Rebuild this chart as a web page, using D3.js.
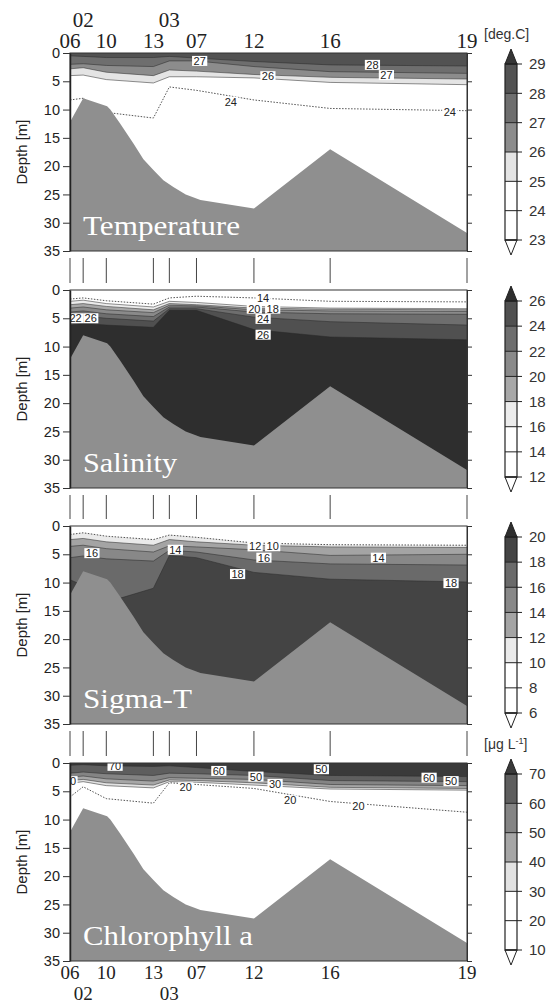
<!DOCTYPE html>
<html>
<head>
<meta charset="utf-8">
<script src="https://cdn.jsdelivr.net/npm/d3@7"></script>
<style>
  body { margin: 0; background: #fff; }
  svg { display: block; }
</style>
</head>
<body>
<div id="chart"></div>
<script>
// stations along the section (relative distance) and their names
const stationNames = ["06", "02", "10", "13", "03", "07", "12", "16", "19"];
const stationDist  = [0, 3.3, 9.1, 20.9, 24.9, 31.7, 46.1, 65.2, 99.5];
const stationRow   = [0, 1, 0, 0, 1, 0, 0, 0, 0];   // 1 = label on second line

// sea bottom profile
const bottomDist  = [0, 3.3, 9.3, 10.1, 12.6, 15.9, 18.4, 20.9, 23.4, 25.9, 29.0, 32.7, 39.0, 46.1, 65.2, 99.5];
const bottomDepth = [12.2, 8.0, 9.4, 10.0, 12.5, 16.0, 18.8, 20.7, 22.5, 23.7, 25.0, 26.0, 26.7, 27.5, 17.0, 31.8];

const depthTicks = [0, 5, 10, 15, 20, 25, 30, 35];

// Temperature: depth of each isoline at each station
const tempTicks  = [23, 24, 25, 26, 27, 28, 29];
const tempLevels = [24, 25, 26, 27, 28];
const tempIso = [
  [8.3, 8.0, 10.5, 11.5, 6.0, 6.6, 8.3, 9.8, 10.2],
  [4.0, 3.9, 4.7, 5.3, 4.2, 4.2, 4.4, 5.2, 5.6],
  [2.8, 2.6, 3.4, 4.0, 3.0, 3.2, 3.8, 4.3, 4.6],
  [2.0, 1.9, 2.2, 2.4, 1.4, 1.4, 2.4, 3.3, 3.6],
  [0.5, 0.6, 0.8, 0.8, 0.6, 0.9, 1.5, 2.1, 2.3]
];
const tempLabelText  = ["27", "26", "28", "27", "24", "24"];
const tempLabelDist  = [32.5, 49.6, 75.8, 79.3, 40.3, 95.2];
const tempLabelDepth = [1.4, 4.1, 2.1, 3.9, 8.6, 10.5];

// Salinity
const salTicks  = [12, 14, 16, 18, 20, 22, 24, 26];
const salLevels = [14, 16, 18, 20, 22, 24, 26];
const salIso = [
  [1.6, 1.4, 1.9, 2.5, 1.4, 1.1, 1.4, 2.0, 2.1],
  [2.0, 1.8, 2.4, 3.0, 2.0, 2.2, 2.9, 3.2, 3.3],
  [2.6, 2.4, 2.9, 3.5, 2.4, 2.6, 3.2, 3.4, 3.5],
  [3.2, 3.0, 3.5, 4.0, 2.7, 2.8, 3.5, 3.7, 3.8],
  [3.9, 3.7, 4.2, 4.7, 3.0, 3.0, 3.9, 4.2, 4.3],
  [4.8, 4.6, 5.0, 5.5, 3.3, 3.3, 4.8, 5.6, 6.2],
  [6.2, 5.9, 6.2, 6.6, 3.6, 3.6, 7.0, 8.3, 8.8]
];
const salLabelText  = ["14", "22", "26", "20", "18", "24", "26"];
const salLabelDist  = [48.4, 1.4, 5.2, 46.2, 50.8, 48.4, 48.4];
const salLabelDepth = [1.4, 5.0, 5.0, 3.3, 3.3, 5.1, 7.9];

// Sigma-T
const sigTicks  = [6, 8, 10, 12, 14, 16, 18, 20];
const sigLevels = [10, 12, 14, 16, 18];
const sigIso = [
  [1.5, 1.2, 1.8, 2.4, 1.6, 2.0, 3.0, 3.3, 3.4],
  [2.4, 2.2, 2.8, 3.4, 2.4, 2.8, 3.4, 3.7, 3.8],
  [3.6, 3.4, 4.0, 4.6, 3.5, 3.7, 4.2, 5.2, 5.0],
  [5.6, 5.3, 5.8, 6.2, 4.3, 4.6, 6.0, 6.7, 6.9],
  [9.5, 10.5, 13.5, 11.0, 5.2, 5.6, 8.2, 9.4, 9.9]
];
const sigLabelText  = ["16", "14", "12", "10", "16", "18", "14", "18"];
const sigLabelDist  = [5.5, 26.4, 46.4, 50.8, 48.6, 42.0, 77.3, 95.5];
const sigLabelDepth = [4.8, 4.2, 3.6, 3.6, 5.6, 8.5, 5.6, 10.1];

// Chlorophyll a
const chlTicks  = [10, 20, 30, 40, 50, 60, 70];
const chlLevels = [20, 30, 40, 50, 60, 70];
const chlIso = [
  [6.0, 4.2, 6.3, 7.1, 3.5, 3.8, 4.5, 6.8, 8.7],
  [3.6, 3.3, 4.0, 4.4, 3.3, 3.4, 3.9, 4.6, 4.8],
  [3.1, 2.9, 3.5, 3.9, 3.0, 3.1, 3.5, 4.3, 4.5],
  [2.5, 2.3, 2.8, 3.2, 2.6, 2.7, 2.9, 3.8, 4.0],
  [1.8, 1.6, 1.9, 2.2, 1.8, 1.9, 2.2, 3.1, 3.3],
  [0.4, 0.3, 0.5, 0.6, 0.5, 0.8, 1.5, 2.2, 2.4]
];
const chlLabelText  = ["70", "60", "50", "50", "30", "60", "50", "20", "20", "20", "20"];
const chlLabelDist  = [11.3, 37.3, 63.0, 46.6, 51.4, 90.0, 95.5, 29.0, 55.2, 72.3, 0];
const chlLabelDepth = [0.5, 1.4, 1.1, 2.4, 3.7, 2.6, 3.2, 4.3, 6.6, 7.6, 3.2];

// ---- panel setup (styles live here, not in the data arrays) ----
const panels = [
  { title: "Temperature", titleLen: 157, top: 53, dir: "up",
    ticks: tempTicks, levels: tempLevels, iso: tempIso,
    bands: ["#ffffff", "#ffffff", "#e4e4e4", "#8c8c8c", "#6e6e6e", "#525252"], over: "#363636",
    lt: tempLabelText, ld: tempLabelDist, lz: tempLabelDepth, unit: "[deg.C]" },
  { title: "Salinity", titleLen: 94, top: 290, dir: "down",
    ticks: salTicks, levels: salLevels, iso: salIso,
    bands: ["#ffffff", "#ffffff", "#ececec", "#a8a8a8", "#8a8a8a", "#6e6e6e", "#505050"], over: "#2e2e2e",
    lt: salLabelText, ld: salLabelDist, lz: salLabelDepth },
  { title: "Sigma-T", titleLen: 109, top: 526, dir: "down",
    ticks: sigTicks, levels: sigLevels, iso: sigIso,
    bands: ["#ffffff", "#ffffff", "#eaeaea", "#a4a4a4", "#888888", "#6a6a6a", "#444444"], over: "#2e2e2e",
    lt: sigLabelText, ld: sigLabelDist, lz: sigLabelDepth },
  { title: "Chlorophyll a", titleLen: 170, top: 763, dir: "up",
    ticks: chlTicks, levels: chlLevels, iso: chlIso,
    bands: ["#ffffff", "#ffffff", "#e2e2e2", "#a6a6a6", "#848484", "#5e5e5e"], over: "#3a3a3a",
    lt: chlLabelText, ld: chlLabelDist, lz: chlLabelDepth, unit: "[\u03bcg L" }
];

const W = 553, H = 1005;
const left = 70, right = 467, panelH = 198;
const sans = "'Liberation Sans', Arial, sans-serif";
const serif = "'Liberation Serif', 'Times New Roman', serif";

const svg = d3.select("#chart").append("svg")
  .attr("width", W).attr("height", H);

const x = d3.scaleLinear().domain([0, 99.5]).range([left, right]);

// colour of the band just above / below a level
function colorAbove(p, level) {
  const i = p.ticks.indexOf(level);
  return i < p.bands.length ? p.bands[i] : p.over;
}
function colorBelow(p, level) {
  const i = p.ticks.indexOf(level);
  return p.bands[Math.max(0, i - 1)];
}

panels.forEach((p, pi) => {
  const top = p.top, bottom = top + panelH;
  const y = d3.scaleLinear().domain([0, 35]).range([top, bottom]);

  const clipId = "clip" + pi;
  svg.append("clipPath").attr("id", clipId)
    .append("rect").attr("x", left).attr("y", top)
    .attr("width", right - left).attr("height", panelH);

  const g = svg.append("g").attr("clip-path", `url(#${clipId})`);

  // base colour = band below the lowest isoline level
  g.append("rect").attr("x", left).attr("y", top)
    .attr("width", right - left).attr("height", panelH)
    .attr("fill", colorBelow(p, p.levels[0]));

  // filled bands, lower levels first
  p.levels.forEach((lev, li) => {
    const area = d3.area()
      .x((d, i) => x(stationDist[i]))
      .y0(() => p.dir === "up" ? y(0) : y(35))
      .y1(d => y(d));
    g.append("path")
      .datum(p.iso[li])
      .attr("d", area)
      .attr("fill", colorAbove(p, lev));
  });

  // isolines
  const line = d3.line()
    .x((d, i) => x(stationDist[i]))
    .y(d => y(d));
  p.levels.forEach((lev, li) => {
    const dotted = li === 0;
    g.append("path")
      .datum(p.iso[li])
      .attr("d", line)
      .attr("fill", "none")
      .attr("stroke", "#2a2a2a")
      .attr("stroke-width", dotted ? 0.9 : 0.7)
      .attr("stroke-dasharray", dotted ? "1.5,1.5" : null)
      .attr("opacity", dotted ? 0.9 : 0.75);
  });

  // sea bottom
  const bottomArea = d3.area()
    .x(d => x(d[0]))
    .y0(y(35) + 1)
    .y1(d => y(d[1]));
  g.append("path")
    .datum(d3.zip(bottomDist, bottomDepth))
    .attr("d", bottomArea)
    .attr("fill", "#8f8f8f");

  // contour labels
  const lab = g.selectAll(".clab").data(p.lt).enter().append("g")
    .attr("class", "clab")
    .attr("transform", (d, i) => `translate(${x(p.ld[i])},${y(p.lz[i])})`);
  lab.append("rect")
    .attr("x", d => -d.length * 3.05 - 1.5).attr("y", -5)
    .attr("width", d => d.length * 6.1 + 3).attr("height", 10)
    .attr("fill", "#fff");
  lab.append("text")
    .attr("text-anchor", "middle").attr("dy", "0.36em")
    .style("font-family", sans).style("font-size", "11px")
    .attr("fill", "#222")
    .text(d => d);

  // panel title
  svg.append("text")
    .attr("x", 83).attr("y", bottom - 16)
    .attr("textLength", p.titleLen).attr("lengthAdjust", "spacingAndGlyphs")
    .style("font-family", serif).style("font-size", "27px")
    .attr("fill", "#fff")
    .text(p.title);

  // frame
  svg.append("rect").attr("x", left).attr("y", top)
    .attr("width", right - left).attr("height", panelH)
    .attr("fill", "none").attr("stroke", "#333").attr("stroke-width", 1);

  // depth axes
  const ax = svg.append("g").attr("transform", `translate(${left},0)`)
    .call(d3.axisLeft(y).tickValues(depthTicks).tickSize(7).tickSizeOuter(0).tickPadding(3));
  ax.selectAll("text").style("font-family", sans).style("font-size", "14.5px").attr("fill", "#222");
  ax.selectAll("line").attr("stroke", "#333");
  ax.select(".domain").attr("stroke", "#222").attr("stroke-width", 1.5);

  const axr = svg.append("g").attr("transform", `translate(${right},0)`)
    .call(d3.axisRight(y).tickValues(depthTicks).tickSize(5).tickSizeOuter(0).tickFormat(""));
  axr.selectAll("line").attr("stroke", "#333");
  axr.select(".domain").attr("stroke", "#333");

  svg.append("text")
    .attr("transform", `translate(22,${top + panelH / 2}) rotate(-90)`)
    .attr("text-anchor", "middle").attr("dy", "0.35em")
    .style("font-family", sans).style("font-size", "15px")
    .attr("fill", "#222")
    .text("Depth [m]");

  // station marks between panels
  if (pi < panels.length - 1) {
    const nextTop = panels[pi + 1].top;
    svg.append("g").selectAll("line").data(stationDist).enter().append("line")
      .attr("x1", d => x(d)).attr("x2", d => x(d))
      .attr("y1", bottom + 7).attr("y2", nextTop - 7)
      .attr("stroke", "#444").attr("stroke-width", 1);
  }

  // colour bar
  const bx = 505, bw = 12;
  const yb = d3.scaleLinear()
    .domain([p.ticks[0], p.ticks[p.ticks.length - 1]])
    .range([top + 187, top + 11]);
  const cb = svg.append("g");
  cb.selectAll("rect").data(p.bands).enter().append("rect")
    .attr("x", bx).attr("width", bw)
    .attr("y", (d, i) => yb(p.ticks[i + 1]))
    .attr("height", (d, i) => yb(p.ticks[i]) - yb(p.ticks[i + 1]))
    .attr("fill", d => d);
  const yTop = yb(p.ticks[p.ticks.length - 1]), yBot = yb(p.ticks[0]);
  cb.append("path")
    .attr("d", `M${bx},${yTop}L${bx + bw / 2},${yTop - 15}L${bx + bw},${yTop}Z`)
    .attr("fill", p.over).attr("stroke", "#222");
  cb.append("path")
    .attr("d", `M${bx},${yBot}L${bx + bw / 2},${yBot + 15}L${bx + bw},${yBot}Z`)
    .attr("fill", "#fff").attr("stroke", "#222");
  cb.selectAll(".sep").data(p.ticks).enter().append("line")
    .attr("x1", bx).attr("x2", bx + bw + 5)
    .attr("y1", d => yb(d)).attr("y2", d => yb(d))
    .attr("stroke", "#222").attr("stroke-width", 1);
  cb.append("rect").attr("x", bx).attr("y", yTop)
    .attr("width", bw).attr("height", yBot - yTop)
    .attr("fill", "none").attr("stroke", "#222").attr("stroke-width", 1.2);
  cb.selectAll(".tl").data(p.ticks).enter().append("text")
    .attr("x", 529).attr("y", d => yb(d)).attr("dy", "0.35em")
    .style("font-family", sans).style("font-size", "15px")
    .attr("fill", "#333")
    .text(d => d);

  if (p.unit) {
    const u = svg.append("text")
      .attr("x", 484).attr("y", top - 14)
      .style("font-family", sans).style("font-size", "14px")
      .attr("fill", "#333")
      .text(p.unit);
    if (pi === 3) {
      u.append("tspan").attr("dy", -5).style("font-size", "9px").text("-1");
      u.append("tspan").attr("dy", 5).text("]");
    }
  }
});

// station names above the first panel and below the last
const topBase = [48, 27], botBase = [979, 1000];
["top", "bottom"].forEach(side => {
  svg.append("g").selectAll("text").data(stationNames).enter().append("text")
    .attr("x", (d, i) => x(stationDist[i]))
    .attr("y", (d, i) => side === "top" ? topBase[stationRow[i]] : botBase[stationRow[i]])
    .attr("text-anchor", "middle")
    .style("font-family", serif).style("font-size", side === "top" ? "21px" : "19px")
    .attr("fill", "#222")
    .text(d => d);
});
</script>
</body>
</html>
